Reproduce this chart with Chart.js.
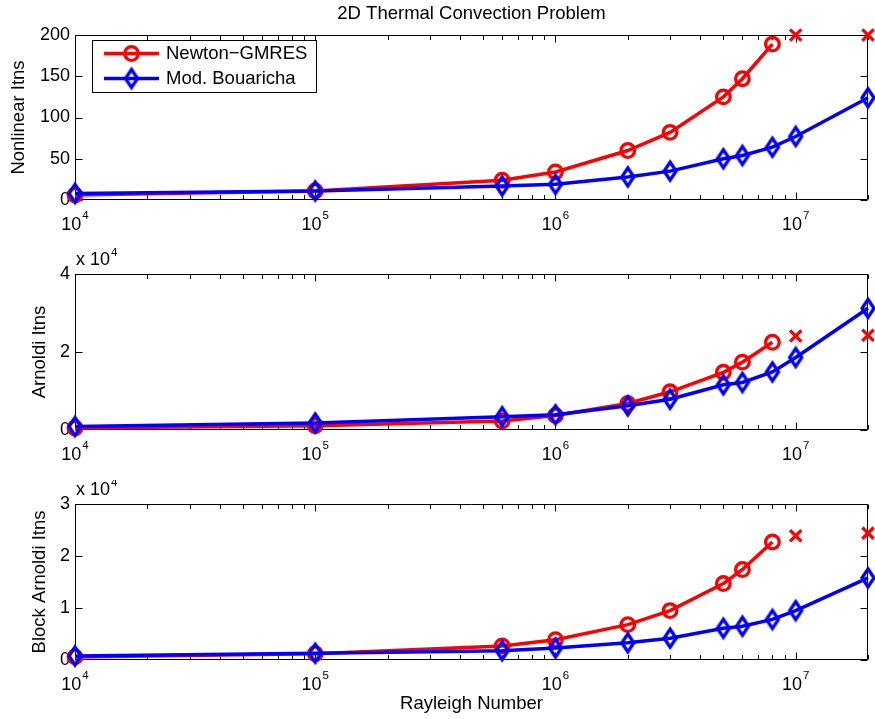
<!DOCTYPE html>
<html><head><meta charset="utf-8">
<script src="https://cdn.jsdelivr.net/npm/chart.js@4"></script>
<style>
html,body{margin:0;padding:0;background:#fff;}
#wrap{position:relative;width:875px;height:719px;overflow:hidden;}
.cw{position:absolute;left:0;width:875px;}
</style></head><body>
<div id="wrap">
<div class="cw" style="top:0;height:240px"><canvas id="c1"></canvas></div>
<div class="cw" style="top:240px;height:240px"><canvas id="c2"></canvas></div>
<div class="cw" style="top:480px;height:239px"><canvas id="c3"></canvas></div>
</div>
<script>
// ---------- data ----------
const rayleigh = [1e4, 1e5, 6e5, 1e6, 2e6, 3e6, 5e6, 6e6, 8e6, 1e7, 2e7];

const newtonNonlinear    = [6, 11, 24, 34, 60, 82, 125, 147, 189, null, null];
const bouarichaNonlinear = [8, 11, 17, 19, 28, 35, 50, 54, 64, 77, 124];
const newtonFailNonlinear = [null, null, null, null, null, null, null, null, null, 200, 200];

const newtonArnoldi    = [500, 1100, 2300, 3700, 6800, 9800, 14800, 17400, 22500, null, null];
const bouarichaArnoldi = [900, 1800, 3400, 3900, 6200, 7900, 11600, 12200, 14900, 18600, 31200];
const newtonFailArnoldi = [null, null, null, null, null, null, null, null, null, 24100, 24300];

const newtonBlock    = [600, 1200, 2700, 3900, 6800, 9500, 14700, 17400, 22700, null, null];
const bouarichaBlock = [770, 1300, 1800, 2300, 3300, 4200, 6100, 6500, 7800, 9500, 15800];
const newtonFailBlock = [null, null, null, null, null, null, null, null, null, 23900, 24400];

const seriesNames = ['Newton\u2212GMRES', 'Mod. Bouaricha'];
const xTickValues = [1e4, 1e5, 1e6, 1e7];
const xTickExponents = ['4', '5', '6', '7'];
const xMinorTicks = [2e4,3e4,4e4,5e4,6e4,7e4,8e4,9e4,2e5,3e5,4e5,5e5,6e5,7e5,8e5,9e5,2e6,3e6,4e6,5e6,6e6,7e6,8e6,9e6,2e7];
const yTicksNonlinear = [0, 50, 100, 150, 200];
const yTicksArnoldi = [0, 20000, 40000];
const yTicksBlock = [0, 10000, 20000, 30000];

const chartTitle = '2D Thermal Convection Problem';
const xAxisTitle = 'Rayleigh Number';
const yTitles = ['Nonlinear Itns', 'Arnoldi Itns', 'Block Arnoldi Itns'];

// ---------- styles ----------
const FONT = '"Liberation Sans", Arial, Helvetica, sans-serif';
Chart.defaults.font.family = FONT;
Chart.defaults.color = '#000';
const RED = '#ff0000', BLUE = '#0000ff';

function makeDiamond(color) {
  const c = document.createElement('canvas');
  c.width = 18; c.height = 26;
  const g = c.getContext('2d');
  g.strokeStyle = color; g.lineWidth = 3.3; g.lineJoin = 'miter';
  g.beginPath(); g.moveTo(9, 4); g.lineTo(15, 13); g.lineTo(9, 22); g.lineTo(3, 13); g.closePath();
  g.stroke();
  return c;
}
const diamond = makeDiamond(BLUE);

function pts(arr) { return rayleigh.map((x, i) => ({x: x, y: arr[i]})); }

function datasets(red, blue, fail) {
  return [
    {label: seriesNames[1], data: pts(blue), borderColor: BLUE, borderWidth: 3.5,
     pointStyle: diamond, pointRadius: 8, pointBorderColor: BLUE, pointBackgroundColor: 'rgba(0,0,0,0)',
     clip: false, order: 0, tension: 0},
    {label: seriesNames[0], data: pts(red), borderColor: RED, borderWidth: 3.5,
     pointStyle: 'circle', pointRadius: 6.8, pointBorderWidth: 3.3, pointBorderColor: RED,
     pointBackgroundColor: 'rgba(0,0,0,0)', clip: false, order: 1, tension: 0, spanGaps: false},
    {label: 'failed', data: pts(fail), showLine: false, borderColor: RED,
     pointStyle: 'crossRot', pointRadius: 8, pointBorderWidth: 3.3, pointBorderColor: RED,
     clip: false, order: 2}
  ];
}

// box + inward ticks, drawn under the data
const frame = {
  id: 'frame',
  beforeDatasetsDraw(chart) {
    const {ctx, chartArea: a} = chart;
    const xs = chart.scales.x, ys = chart.scales.y;
    ctx.save();
    ctx.strokeStyle = '#000'; ctx.lineWidth = 1;
    const L = Math.round(a.left) + 0.5, R = Math.round(a.right) - 0.5;
    const T = Math.round(a.top) + 0.5, B = Math.round(a.bottom) - 0.5;
    ctx.beginPath();
    ctx.rect(L, T, R - L, B - T);
    const vt = (v, len) => {
      const x = Math.round(xs.getPixelForValue(v)) + 0.5;
      ctx.moveTo(x, B); ctx.lineTo(x, B - len);
      ctx.moveTo(x, T); ctx.lineTo(x, T + len);
    };
    xTickValues.forEach(v => vt(v, 7));
    xMinorTicks.forEach(v => vt(v, 4.5));
    ys.ticks.forEach(t => {
      const y = Math.round(ys.getPixelForValue(t.value)) + 0.5;
      ctx.moveTo(L, y); ctx.lineTo(L + 7, y);
      ctx.moveTo(R, y); ctx.lineTo(R - 7, y);
    });
    ctx.stroke();
    ctx.restore();
  },
  afterDraw(chart) {
    const {ctx, chartArea: a} = chart;
    const xs = chart.scales.x;
    ctx.save();
    ctx.fillStyle = '#000';
    ctx.textBaseline = 'alphabetic';
    ctx.textAlign = 'left';
    xTickValues.forEach((v, i) => {
      ctx.font = '18px ' + FONT;
      const w10 = ctx.measureText('10').width;
      ctx.font = '11.5px ' + FONT;
      const we = ctx.measureText(xTickExponents[i]).width;
      const x0 = xs.getPixelForValue(v) - (w10 + we + 1) / 2;
      ctx.font = '18px ' + FONT;
      ctx.fillText('10', x0, a.bottom + 30);
      ctx.font = '11.5px ' + FONT;
      ctx.fillText(xTickExponents[i], x0 + w10 + 1, a.bottom + 19);
    });
    const mult = chart.options.plugins.frame && chart.options.plugins.frame.multiplier;
    if (mult) {
      ctx.font = '18px ' + FONT;
      const t = 'x 10';
      ctx.fillText(t, a.left + 1, a.top - 9);
      const w = ctx.measureText(t).width;
      ctx.font = '11.5px ' + FONT;
      ctx.fillText(mult, a.left + 2 + w, a.top - 18);
    }
    if (chart.options.plugins.frame && chart.options.plugins.frame.legend) {
      const lx = a.left + 17.5, ly = a.top + 5.5, lw = 224, lh = 52;
      ctx.fillStyle = '#fff';
      ctx.fillRect(lx, ly, lw, lh);
      ctx.strokeStyle = '#000'; ctx.lineWidth = 1;
      ctx.strokeRect(lx, ly, lw, lh);
      const rows = [chart.data.datasets[1], chart.data.datasets[0]];
      rows.forEach((ds, k) => {
        const y = ly + 13 + k * 25;
        ctx.strokeStyle = ds.borderColor; ctx.lineWidth = 3.5;
        ctx.beginPath(); ctx.moveTo(lx + 11.5, y); ctx.lineTo(lx + 66.5, y); ctx.stroke();
        ctx.fillStyle = 'rgba(0,0,0,0)';
        ctx.lineWidth = 3.3;
        Chart.helpers.drawPoint(ctx, {pointStyle: ds.pointStyle, radius: ds.pointRadius,
          borderWidth: 3.3, rotation: 0}, lx + 39, y);
        ctx.fillStyle = '#000';
        ctx.font = '18.5px ' + FONT;
        ctx.textBaseline = 'middle';
        ctx.fillText(ds.label, lx + 73.5, y);
      });
    }
    ctx.restore();
  }
};

function makeChart(id, red, blue, fail, yTicks, yMax, yTitle, yTitlePad, padding, extra) {
  const cfg = {
    type: 'line',
    data: {datasets: datasets(red, blue, fail)},
    options: {
      responsive: true, maintainAspectRatio: false, animation: false, events: [],
      layout: {padding: padding, autoPadding: false},
      plugins: {
        legend: {display: false}, tooltip: {enabled: false},
        title: {display: false},
        frame: {multiplier: extra.multiplier, legend: extra.legend}
      },
      scales: {
        x: {
          type: 'logarithmic', min: 1e4, max: 2e7,
          display: !!extra.xTitle,
          grid: {display: false, drawTicks: false}, border: {display: false},
          ticks: {display: false},
          title: extra.xTitle ? {display: true, text: extra.xTitle, font: {size: 18.5}, padding: {top: 0, bottom: 4}} : {display: false},
          afterFit: extra.xTitle ? (s) => { s.height = 59; } : undefined
        },
        y: {
          type: 'linear', min: 0, max: yMax,
          grid: {display: false, drawTicks: false}, border: {display: false},
          afterBuildTicks: (s) => { s.ticks = yTicks.map(v => ({value: v})); },
          ticks: {
            font: {size: 18}, padding: 5, autoSkip: false,
            callback: (v) => extra.multiplier ? String(v / 1e4) : String(v)
          },
          title: {display: true, text: yTitle, font: {size: 18.5}, padding: {top: yTitlePad, bottom: 0}},
          afterFit: (s) => { s.width = 75; }
        }
      }
    },
    plugins: [frame]
  };
  if (extra.title) {
    cfg.options.plugins.title = {display: true, text: extra.title, fullSize: false,
      font: {size: 18.5, weight: 'normal'}, color: '#000', padding: {top: 3, bottom: 9.8}};
  }
  return new Chart(document.getElementById(id), cfg);
}

makeChart('c1', newtonNonlinear, bouarichaNonlinear, newtonFailNonlinear, yTicksNonlinear, 200,
  yTitles[0], 8, {left: 0, right: 7, top: 0, bottom: 40}, {title: chartTitle, legend: true});
makeChart('c2', newtonArnoldi, bouarichaArnoldi, newtonFailArnoldi, yTicksArnoldi, 40000,
  yTitles[1], 29, {left: 0, right: 7, top: 34, bottom: 50}, {multiplier: '4'});
makeChart('c3', newtonBlock, bouarichaBlock, newtonFailBlock, yTicksBlock, 30000,
  yTitles[2], 29, {left: 0, right: 7, top: 24, bottom: 0}, {multiplier: '4', xTitle: xAxisTitle});
</script>
</body></html>
